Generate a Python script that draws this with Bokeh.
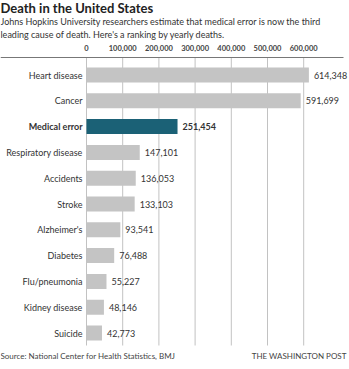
from bokeh.plotting import figure
from bokeh.models import ColumnDataSource, Range1d, Label
from bokeh.core.properties import value
from bokeh.embed import file_html
from bokeh.resources import INLINE

causes = ["Heart disease", "Cancer", "Medical error", "Respiratory disease", "Accidents",
          "Stroke", "Alzheimer's", "Diabetes", "Flu/pneumonia", "Kidney disease", "Suicide"]
deaths = [614348, 591699, 251454, 147101, 136053, 133103, 93541, 76488, 55227, 48146, 42773]
highlight = "Medical error"
tick_values = [0, 100000, 200000, 300000, 400000, 500000, 600000]
tick_labels = ["0", "100,000", "200,000", "300,000", "400,000", "500,000", "600,000"]

W, H = 349, 369
FONT = "Lato"
px_per_unit = 36.2 / 100000.0
x0_px = 86.0
row_px = 25.8
first_row_px = 74.5

x_start = -x0_px / px_per_unit
x_end = (W - x0_px) / px_per_unit
y_top = -first_row_px / row_px
y_bottom = (H - first_row_px) / row_px

def yidx(px):
    return (px - first_row_px) / row_px

idx = list(range(len(causes)))
colors = ["#1b6176" if c == highlight else "#c4c4c4" for c in causes]
styles = ["bold" if c == highlight else "normal" for c in causes]
vlabels = [f"{d:,}" for d in deaths]

src = ColumnDataSource(dict(y=idx, cause=causes, deaths=deaths, color=colors,
                            style=styles, vlabel=vlabels, zero=[0] * len(causes)))

p = figure(width=W, height=H, output_backend="svg", toolbar_location=None,
           x_range=Range1d(x_start, x_end), y_range=Range1d(y_bottom, y_top),
           min_border=0, outline_line_color=None)
p.axis.visible = False
p.grid.visible = False
p.background_fill_color = "white"
p.border_fill_color = "white"

# gridlines
grid_top = yidx(57)
grid_bot = yidx(345)
p.segment(x0=tick_values, x1=tick_values, y0=[grid_top] * len(tick_values),
          y1=[grid_bot] * len(tick_values), line_color="#c2c2c2", line_width=1)
# top axis line
p.segment(x0=[x_start], x1=[(343 - x0_px) / px_per_unit], y0=[grid_top], y1=[grid_top],
          line_color="#777777", line_width=1)
# tick labels
p.text(x=tick_values, y=[yidx(47)] * len(tick_values), text=tick_labels,
       text_font=value(FONT), text_font_size="7.5px", text_font_style="bold",
       text_color="#444444", text_align="center", text_baseline="middle")

# bars
p.hbar(y="y", left=0, right="deaths", height=0.58, fill_color="color",
       line_color=None, source=src)

# category labels
p.text(x="zero", y="y", text="cause", x_offset=-4, source=src,
       text_font=value(FONT), text_font_size="9px", text_font_style="style",
       text_color="#333333", text_align="right", text_baseline="middle")
# value labels
p.text(x="deaths", y="y", text="vlabel", x_offset=5, source=src,
       text_font=value(FONT), text_font_size="9px", text_font_style="style",
       text_color="#333333", text_align="left", text_baseline="middle")

def lab(txt, x, ytop_px, size, style="normal", color="#333333", align="left"):
    p.add_layout(Label(x=x, y=H - ytop_px, x_units="screen", y_units="screen", text=txt,
                       text_font=FONT, text_font_size=size, text_font_style=style,
                       text_color=color, text_align=align, text_baseline="middle"))

lab("Death in the United States", 0, 7.5, "13px", "bold", "#222222")
lab("Johns Hopkins University researchers estimate that medical error is now the third", 0, 20.5, "9px")
lab("leading cause of death. Here's a ranking by yearly deaths.", 0, 33.5, "9px")
lab("Source: National Center for Health Statistics, BMJ", 0, 355, "8px", color="#444444")
lab("THE WASHINGTON POST", 346, 355, "8px", color="#444444", align="right")

open("out.html", "w").write(file_html(p, INLINE))
